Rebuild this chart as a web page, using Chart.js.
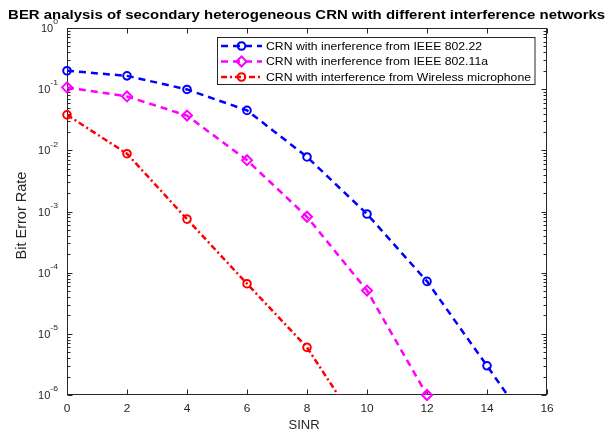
<!DOCTYPE html>
<html><head><meta charset="utf-8">
<script src="https://cdn.jsdelivr.net/npm/chart.js@4"></script>
<style>html,body{margin:0;padding:0;background:#fff}canvas{display:block}</style>
</head><body>
<canvas id="c" width="608" height="434"></canvas>
<script>
// ---- data ----
const titleText = 'BER analysis of secondary heterogeneous CRN with different interference networks';
const xAxisLabel = 'SINR';
const yAxisLabel = 'Bit Error Rate';
const xTicks = [0, 2, 4, 6, 8, 10, 12, 14, 16];
const yTickExponents = [0, -1, -2, -3, -4, -5, -6];
const seriesLabels = [
  'CRN with inerference from IEEE 802.22',
  'CRN with inerference from IEEE 802.11a',
  'CRN with interference from Wireless microphone'
];
const sinr80222 = [0, 2, 4, 6, 8, 10, 12, 14, 16];
const ber80222 = [0.2, 0.165, 0.099, 0.045, 0.0078, 0.00091, 7.2e-5, 3e-6, 1.2e-7];
const sinr80211a = [0, 2, 4, 6, 8, 10, 12];
const ber80211a = [0.107, 0.076, 0.037, 0.0069, 0.00082, 5.1e-5, 1e-6];
const sinrMic = [0, 2, 4, 6, 8, 10];
const berMic = [0.038, 0.0088, 0.00075, 6.6e-5, 6e-6, 1.9e-7];

// ---- styling ----
const FONT = '"Liberation Sans", Arial, sans-serif';
const AX = '#262626';
const yMin = 1e-6, yMax = 1;
const styles = [
  {color: '#0000FF', dash: [7, 5], pointStyle: 'circle', radius: 3.8},
  {color: '#FF00FF', dash: [7, 5], pointStyle: 'rectRot', radius: 5},
  {color: '#FF0000', dash: [6, 3, 2, 3], pointStyle: 'circle', radius: 3.8}
];
const seriesX = [sinr80222, sinr80211a, sinrMic];
const seriesY = [ber80222, ber80211a, berMic];

const datasets = [];
seriesX.forEach((xs, i) => {
  const pts = xs.map((x, k) => ({x: x, y: seriesY[i][k]}));
  const s = styles[i];
  datasets.push({
    label: seriesLabels[i], data: pts, borderColor: s.color, borderWidth: 2.5,
    borderDash: s.dash, pointRadius: 0, fill: false, tension: 0, clip: 0,
    order: 10 - i, _legend: true, _style: s
  });
  datasets.push({
    label: seriesLabels[i] + ' markers', data: pts, showLine: false,
    pointStyle: s.pointStyle,
    pointRadius: ctx => (ctx.raw && ctx.raw.y >= yMin) ? s.radius : 0,
    pointBorderColor: s.color, pointBackgroundColor: 'rgba(0,0,0,0)',
    pointBorderWidth: 2, clip: false, order: 5 - i
  });
});

// draw text horizontally stretched by sx around anchor
function stretchedText(ctx, text, x, y, sx, align) {
  ctx.save();
  ctx.translate(x, y);
  ctx.scale(sx, 1);
  ctx.textAlign = align;
  ctx.fillText(text, 0, 0);
  ctx.restore();
}

const axesPlugin = {
  id: 'matlabAxes',
  beforeDatasetsDraw(chart) {
    const {ctx, chartArea: a, scales: {x, y}} = chart;
    ctx.save();
    ctx.strokeStyle = AX; ctx.lineWidth = 1;
    const L = Math.round(a.left) + 0.5, R = Math.round(a.right) - 0.5;
    const T = Math.round(a.top) + 0.5, B = Math.round(a.bottom) - 0.5;
    ctx.strokeRect(L, T, R - L, B - T);
    ctx.beginPath();
    xTicks.forEach(v => {
      const px = Math.round(x.getPixelForValue(v)) + 0.5;
      ctx.moveTo(px, B); ctx.lineTo(px, B - 5);
      ctx.moveTo(px, T); ctx.lineTo(px, T + 5);
    });
    yTickExponents.forEach(e => {
      const py = Math.round(y.getPixelForValue(Math.pow(10, e))) + 0.5;
      ctx.moveTo(L, py); ctx.lineTo(L + 5, py);
      ctx.moveTo(R, py); ctx.lineTo(R - 5, py);
      if (e < 0) {
        for (let m = 2; m <= 9; m++) {
          const pm = Math.round(y.getPixelForValue(m * Math.pow(10, e))) + 0.5;
          ctx.moveTo(L, pm); ctx.lineTo(L + 3, pm);
          ctx.moveTo(R, pm); ctx.lineTo(R - 3, pm);
        }
      }
    });
    ctx.stroke();
    // tick labels
    ctx.fillStyle = AX;
    ctx.textBaseline = 'middle';
    ctx.font = '11px ' + FONT;
    xTicks.forEach(v => stretchedText(ctx, String(v), x.getPixelForValue(v), a.bottom + 14, 1.08, 'center'));
    yTickExponents.forEach(e => {
      const py = y.getPixelForValue(Math.pow(10, e));
      const right = a.left - 9;
      ctx.font = '8px ' + FONT;
      const ex = String(e);
      const w = ctx.measureText(ex).width * 1.08;
      stretchedText(ctx, ex, right, py - 6, 1.08, 'right');
      ctx.font = '11px ' + FONT;
      stretchedText(ctx, '10', right - w, py + 1, 1.0, 'right');
    });
    // axis titles
    ctx.font = '13px ' + FONT;
    stretchedText(ctx, xAxisLabel, (a.left + a.right) / 2 - 3, a.bottom + 30, 1.0, 'center');
    ctx.save();
    ctx.font = '14.5px ' + FONT;
    ctx.translate(22, (a.top + a.bottom) / 2 + 4);
    ctx.rotate(-Math.PI / 2);
    ctx.textAlign = 'center';
    ctx.fillText(yAxisLabel, 0, 0);
    ctx.restore();
    // title, stretched to the reference width
    ctx.fillStyle = '#000';
    ctx.font = 'bold 12.5px ' + FONT;
    const tw = ctx.measureText(titleText).width;
    stretchedText(ctx, titleText, 306.6, 16, 597 / tw, 'center');
    ctx.restore();
  },
  afterDraw(chart) {
    const {ctx} = chart;
    const bx = 217.5, by = 37.5, bw = 317.5, bh = 47;
    ctx.save();
    ctx.fillStyle = '#fff';
    ctx.fillRect(bx, by, bw, bh);
    ctx.strokeStyle = AX; ctx.lineWidth = 1;
    ctx.strokeRect(bx, by, bw, bh);
    const rows = [46, 61.5, 77];
    ctx.font = '11px ' + FONT;
    const legendSx = 265 / ctx.measureText(seriesLabels[2]).width;
    chart.data.datasets.filter(d => d._legend).forEach((d, i) => {
      const s = d._style, yy = rows[i];
      ctx.save();
      ctx.strokeStyle = s.color; ctx.lineWidth = 2.5;
      ctx.setLineDash(s.dash);
      ctx.beginPath(); ctx.moveTo(221, yy); ctx.lineTo(262, yy); ctx.stroke();
      ctx.restore();
      ctx.save();
      ctx.strokeStyle = s.color; ctx.fillStyle = 'rgba(0,0,0,0)';
      ctx.lineWidth = 2;
      Chart.helpers.drawPoint(ctx, {pointStyle: s.pointStyle, radius: s.radius, borderWidth: 2, rotation: 0}, 241.5, yy);
      ctx.restore();
      ctx.fillStyle = '#000';
      ctx.font = '11px ' + FONT;
      ctx.textBaseline = 'middle';
      stretchedText(ctx, d.label, 266, yy + 0.5, legendSx, 'left');
    });
    ctx.restore();
  }
};

new Chart(document.getElementById('c'), {
  type: 'line',
  data: {datasets: datasets},
  options: {
    responsive: false, animation: false, devicePixelRatio: 1,
    layout: {padding: {left: 67, right: 61, top: 28, bottom: 39}},
    scales: {
      x: {type: 'linear', min: 0, max: 16, display: false},
      y: {type: 'logarithmic', min: yMin, max: yMax, display: false}
    },
    plugins: {legend: {display: false}, title: {display: false}, tooltip: {enabled: false}}
  },
  plugins: [axesPlugin]
});
</script>
</body></html>
